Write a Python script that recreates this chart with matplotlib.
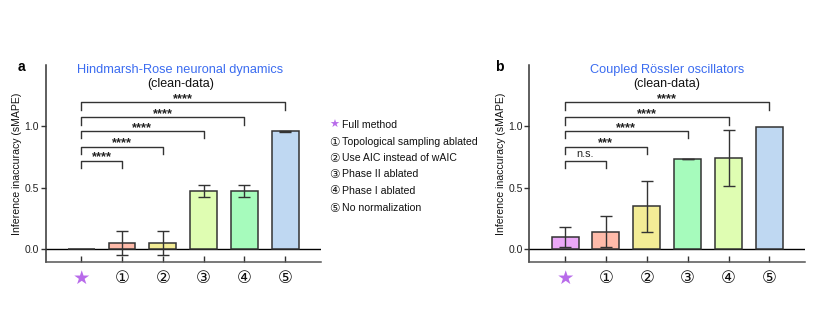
import matplotlib
matplotlib.use("Agg")
import matplotlib.pyplot as plt

plt.rcParams['font.family'] = ['Liberation Sans', 'DejaVu Sans']

# ---------------- data ----------------
categories = ["★", "①", "②", "③", "④", "⑤"]
legend_labels = ["Full method", "Topological sampling ablated", "Use AIC instead of wAIC",
                 "Phase II ablated", "Phase I ablated", "No normalization"]

a_values = [0.005, 0.053, 0.053, 0.477, 0.477, 0.962]
a_errors = [0.0, 0.10, 0.10, 0.05, 0.05, 0.004]
a_sig = ["****", "****", "****", "****", "****"]

b_values = [0.100, 0.145, 0.350, 0.735, 0.745, 0.995]
b_errors = [0.080, 0.128, 0.210, 0.003, 0.226, 0.0]
b_sig = ["n.s.", "***", "****", "****", "****"]

PURPLE = "#EBA8F8"
SALMON = "#FFBBAA"
YELLOW = "#F3EC96"
YGREEN = "#DFFDB2"
GREEN = "#A6FBBC"
BLUE = "#BFD8F2"
a_colors = [PURPLE, SALMON, YELLOW, YGREEN, GREEN, BLUE]
b_colors = [PURPLE, SALMON, YELLOW, GREEN, YGREEN, BLUE]

bracket_tops = [0.72, 0.834, 0.962, 1.073, 1.195]
leg_drop = 0.058

fig = plt.figure(figsize=(8.30, 3.19), dpi=100)
W, H = 830, 319


def make_axes(left_px, right_px):
    top_px, bot_px = 65, 261.7
    return fig.add_axes([left_px / W, 1 - bot_px / H, (right_px - left_px) / W, (bot_px - top_px) / H])


def draw_panel(ax, values, errors, colors, sig, title, title_x):
    x = list(range(len(values)))
    ax.bar(x, values, width=0.66, color=colors, edgecolor="#333333", linewidth=1.1, zorder=2)
    for xi, v, e in zip(x, values, errors):
        if e > 0:
            ax.errorbar(xi, v, yerr=e, fmt="none", ecolor="#333333", elinewidth=1.0,
                        capsize=4.5, capthick=1.0, zorder=3)
    ax.axhline(0, color="black", linewidth=1.0, zorder=1)
    ax.set_xlim(-0.875, 5.87)
    ax.set_ylim(-0.1, 1.5)
    ax.set_yticks([0.0, 0.5, 1.0])
    ax.set_yticklabels(["0.0", "0.5", "1.0"])
    ax.set_xticks(x)
    ax.set_xticklabels(categories)
    for i, t in enumerate(ax.get_xticklabels()):
        t.set_family(["DejaVu Sans", "Noto Sans CJK SC"])
        if i == 0:
            t.set_color("#B86BEA")
            t.set_fontsize(14)
        else:
            t.set_color("#111111")
            t.set_fontsize(12)
    ax.tick_params(axis="x", direction="in", length=4, width=1.0, color="#333333", pad=5.5)
    ax.tick_params(axis="y", direction="out", length=3.5, width=1.0, color="#333333",
                   labelsize=7.5, pad=1.2, labelcolor="#222222")
    for s in ["top", "right"]:
        ax.spines[s].set_visible(False)
    ax.spines["left"].set_color("#333333")
    ax.spines["bottom"].set_color("#555555")
    ax.spines["left"].set_linewidth(1.1)
    ax.spines["bottom"].set_linewidth(1.1)
    ax.set_ylabel("Inference inaccuracy (sMAPE)", fontsize=7.6, labelpad=2, color="#111111")
    ax.yaxis.set_label_coords(-0.085, 0.5)

    # significance brackets
    for j, (top, s) in enumerate(zip(bracket_tops, sig)):
        xr = j + 1
        ax.plot([0, 0, xr, xr], [top - leg_drop, top, top, top - leg_drop],
                color="#333333", linewidth=1.0, zorder=2)
        if s == "n.s.":
            ax.text(xr / 2, top + 0.014, s, ha="center", va="bottom", fontsize=7.8, color="#222222")
        else:
            ax.text(xr / 2, top + 0.002, s, ha="center", va="baseline", fontsize=9.2,
                    fontweight="bold", color="#222222")

    ax.text(title_x, 0.975, title, transform=ax.transAxes, ha="center", va="center",
            fontsize=9.2, color="#3B6CF0")
    ax.text(title_x, 0.903, "(clean-data)", transform=ax.transAxes, ha="center", va="center",
            fontsize=9.0, color="#111111")
    return ax


ax_a = make_axes(45.5, 320.7)
draw_panel(ax_a, a_values, a_errors, a_colors, a_sig, "Hindmarsh-Rose neuronal dynamics", 0.49)
ax_b = make_axes(529.3, 805)
draw_panel(ax_b, b_values, b_errors, b_colors, b_sig, "Coupled Rössler oscillators", 0.5)

fig.text(21 / W, 1 - 67 / H, "a", fontsize=10, fontweight="bold", ha="center", va="center")
fig.text(499 / W, 1 - 67 / H, "b", fontsize=10, fontweight="bold", ha="center", va="center")

# legend (middle)
leg_y = [125, 142, 158.3, 174.3, 190.7, 208]
for i, (sym, lab, yy) in enumerate(zip(categories, legend_labels, leg_y)):
    if i == 0:
        fig.text(334 / W, 1 - yy / H, sym, fontsize=8, color="#B86BEA", ha="center", va="center",
                 family=["DejaVu Sans"])
    else:
        fig.text(334 / W, 1 - yy / H, sym, fontsize=8.5, color="#111111", ha="center", va="center",
                 family=["DejaVu Sans", "Noto Sans CJK SC"])
    fig.text(341.5 / W, 1 - yy / H, lab, fontsize=7.6, color="#111111", ha="left", va="center")

fig.savefig("out.png", dpi=100)
